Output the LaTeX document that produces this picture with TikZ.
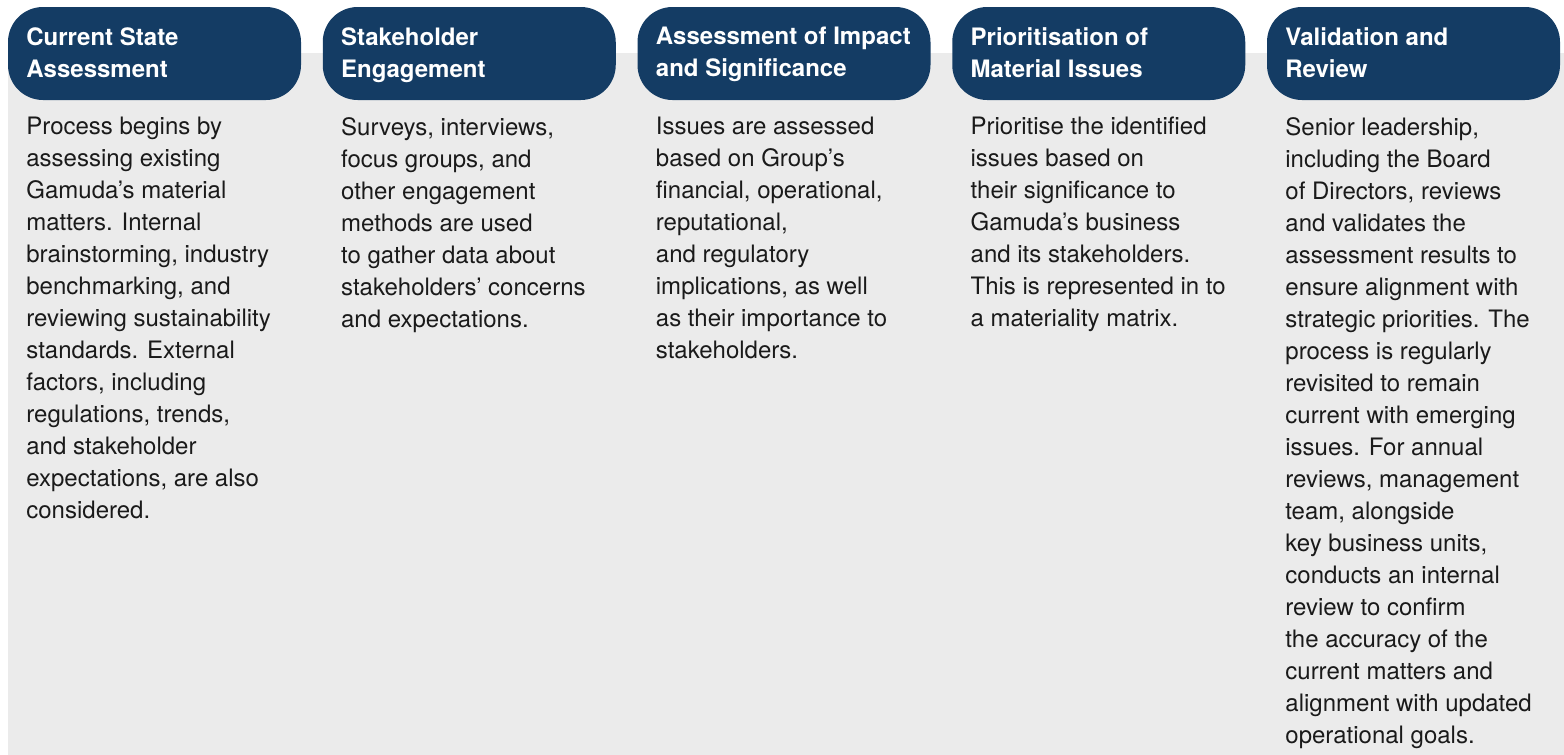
\documentclass[tikz,border=0pt]{standalone}
\usepackage{fontspec}
\setmainfont{TeX Gyre Heros}
\usepackage{xcolor}
\usepackage{tikz}
\usetikzlibrary{calc}

\definecolor{navy}{HTML}{143C64}
\definecolor{panel}{HTML}{EBEBEB}
\definecolor{ink}{HTML}{1A1A1A}

\tikzset{
	pill/.style={fill=navy, rounded corners=17.5pt},
	stagehead/.style={anchor=north west, inner sep=0pt, align=left, text=white, font=\fontsize{12}{16}\selectfont\bfseries},
	stagetext/.style={anchor=north west, inner sep=0pt, align=left, text=ink, font=\fontsize{12}{16}\selectfont},
}

\begin{document}
\begin{tikzpicture}[x=0.5pt, y=-0.5pt]
	\def\w{293}
	\def\h{93}
	\def\pitch{314.75}
	
	\useasboundingbox (0,0) rectangle (1564,755);
	\fill[panel] (8,53) rectangle (1564,755);
	
	\foreach \i/\ttl/\txt in {
		1/{Current State\\Assessment}/{Process begins by\\assessing existing\\Gamuda’s material\\matters. Internal\\brainstorming, industry\\benchmarking, and\\reviewing sustainability\\standards. External\\factors, including\\regulations, trends,\\and stakeholder\\expectations, are also\\considered.},
		2/{Stakeholder\\Engagement}/{Surveys, interviews,\\focus groups, and\\other engagement\\methods are used\\to gather data about\\stakeholders’ concerns\\and expectations.},
		3/{Assessment of Impact\\and Significance}/{Issues are assessed\\based on Group’s\\financial, operational,\\reputational,\\and regulatory\\implications, as well\\as their importance to\\stakeholders.},
		4/{Prioritisation of\\Material Issues}/{Prioritise the identified\\issues based on\\their significance to\\Gamuda’s business\\and its stakeholders.\\This is represented in to\\a materiality matrix.},
		5/{Validation and\\Review}/{Senior leadership,\\including the Board\\of Directors, reviews\\and validates the\\assessment results to\\ensure alignment with\\strategic priorities. The\\process is regularly\\revisited to remain\\current with emerging\\issues. For annual\\reviews, management\\team, alongside\\key business units,\\conducts an internal\\review to confirm\\the accuracy of the\\current matters and\\alignment with updated\\operational goals.}}
	{
		\coordinate (c\i) at ({8+(\i-1)*\pitch},7);
		\fill[pill] (c\i) rectangle ++(\w,\h);
		\node[stagehead] (h\i) at ($ (c\i) + (18,20) $) {\ttl};
		\node[stagetext] (t\i) at ($ (c\i) + (18,110) $) {\txt};
	}
\end{tikzpicture}
\end{document}
